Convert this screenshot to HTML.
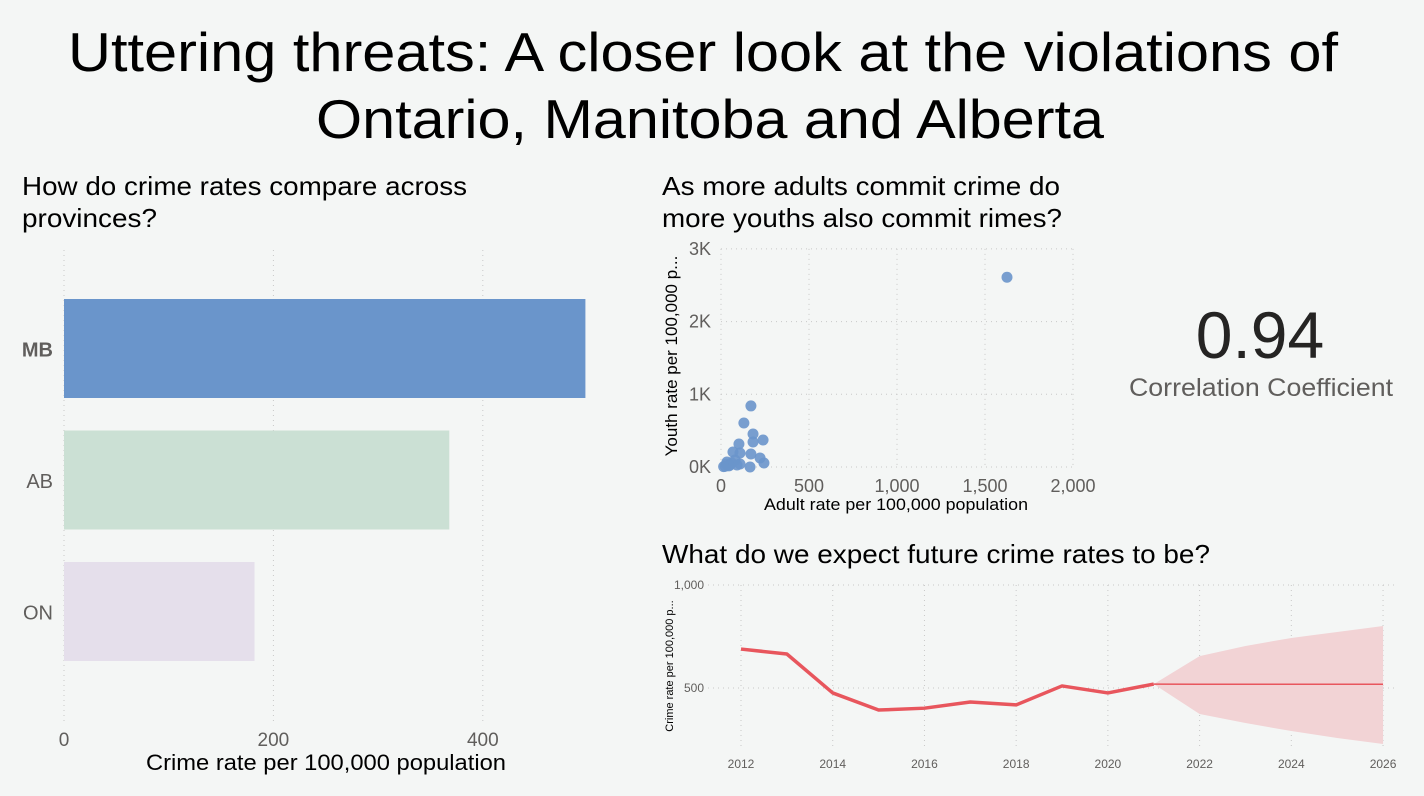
<!DOCTYPE html>
<html><head><meta charset="utf-8">
<style>
html,body{margin:0;padding:0;background:#f4f6f5;}
svg{display:block;font-family:"Liberation Sans",sans-serif;}
</style></head>
<body>
<svg id="page" width="1424" height="796" viewBox="0 0 1424 796" xmlns="http://www.w3.org/2000/svg">
<rect width="1424" height="796" fill="#f4f6f5"/>
<text x="68" y="71" font-size="55" textLength="1270" lengthAdjust="spacingAndGlyphs" fill="#000">Uttering threats: A closer look at the violations of</text>
<text x="316" y="138" font-size="55" textLength="788" lengthAdjust="spacingAndGlyphs" fill="#000">Ontario, Manitoba and Alberta</text>

<text x="22" y="195" font-size="26" textLength="445" lengthAdjust="spacingAndGlyphs" fill="#000">How do crime rates compare across</text>
<text x="22" y="227" font-size="26" textLength="135" lengthAdjust="spacingAndGlyphs" fill="#000">provinces?</text>
<g id="bar"></g>

<text x="662" y="195" font-size="26" textLength="398" lengthAdjust="spacingAndGlyphs" fill="#000">As more adults commit crime do</text>
<text x="662" y="227" font-size="26" textLength="400" lengthAdjust="spacingAndGlyphs" fill="#000">more youths also commit rimes?</text>
<g id="sc"></g>

<text x="1260" y="358" font-size="66" text-anchor="middle" fill="#252423">0.94</text>
<text x="1129" y="396" font-size="25" textLength="264" lengthAdjust="spacingAndGlyphs" fill="#605e5c">Correlation Coefficient</text>

<text x="662" y="563" font-size="26" textLength="548" lengthAdjust="spacingAndGlyphs" fill="#000">What do we expect future crime rates to be?</text>
<g id="ln"></g>
</svg>
<script>
const NS="http://www.w3.org/2000/svg";
function mk(p,t,a,txt){const e=document.createElementNS(NS,t);for(const k in a)e.setAttribute(k,a[k]);if(txt!==undefined)e.textContent=txt;p.appendChild(e);return e;}

// Bar chart data
const provinces=["MB","AB","ON"];
const provinceRates=[498,368,182];
const barTicks=[0,200,400];
const barColors=["#6a95cb","#cbe0d4","#e5dfeb"];

// Scatter data
const adultRates=[1625,170,130,182,182,239,102,170,222,244,68,108,165,108,34,24,51,80,30,91,60,45,15];
const youthRates=[2610,840,605,454,344,371,316,179,124,55,206,193,0,41,69,10,28,96,40,27,55,15,5];
const scXTicks=[0,500,1000,1500,2000];
const scXLabels=["0","500","1,000","1,500","2,000"];
const scYTicks=[0,1000,2000,3000];
const scYLabels=["0K","1K","2K","3K"];

// Line chart data
const years=[2012,2013,2014,2015,2016,2017,2018,2019,2020,2021];
const crimeRates=[689,665,476,393,402,432,418,510,476,519];
const fcYears=[2021,2022,2023,2024,2025,2026];
const fcValues=[519,518,518,518,518,518];
const fcUpper=[519,655,704,743,772,801];
const fcLower=[519,374,330,291,257,228];
const lnXTicks=[2012,2014,2016,2018,2020,2022,2024,2026];
const lnYTicks=[500,1000];
const lnYLabels=["500","1,000"];

// ---- Bar chart
(function(){
const g=document.getElementById('bar');
const x=v=>64+v*1.047;
const bandTop=i=>299+i*131.5, bh=99;
barTicks.forEach(t=>{
 const l=mk(g,'line',{x1:x(t),x2:x(t),y1:250,y2:722,stroke:'#c8c8c8','stroke-dasharray':'1 4'});
 
 
 const tx=mk(g,'text',{x:x(t),y:746,'font-size':19,'text-anchor':'middle',fill:'#605e5c'},String(t));
 
 
});
provinces.forEach((p,i)=>{
 const r=mk(g,'rect',{x:x(0),y:bandTop(i),width:x(provinceRates[i])-x(0),height:bh,fill:barColors[i]});
 
 
 const t=mk(g,'text',{x:53,y:bandTop(i)+bh/2+8,'font-size':20,'text-anchor':'end',fill:'#605e5c','font-weight':i===0?'bold':'normal'},p);
 
 
});
const at=mk(g,'text',{x:146,y:770,'font-size':22,textLength:360,lengthAdjust:'spacingAndGlyphs',fill:'#000'},'Crime rate per 100,000 population');


})();

// ---- Scatter
(function(){
const g=document.getElementById('sc');
const x=v=>721+v*0.176, y=v=>467-v*0.0727;
scXTicks.forEach((t,i)=>{
 const l=mk(g,'line',{x1:x(t),x2:x(t),y1:y(3000),y2:y(0),stroke:'#c8c8c8','stroke-dasharray':'1 4'});
 
 
 const tx=mk(g,'text',{x:x(t),y:492,'font-size':18,'text-anchor':'middle',fill:'#605e5c'},scXLabels[i]);
 
 
});
scYTicks.forEach((t,i)=>{
 const l=mk(g,'line',{x1:x(0),x2:x(2000),y1:y(t),y2:y(t),stroke:'#c8c8c8','stroke-dasharray':'1 4'});
 
 
 const tx=mk(g,'text',{x:711,y:y(t)+6,'font-size':18,'text-anchor':'end',fill:'#605e5c'},scYLabels[i]);
 
 
});
adultRates.forEach((a,i)=>{
 const c=mk(g,'circle',{cx:x(a),cy:y(youthRates[i]),r:5.5,fill:'#6a95cb','fill-opacity':0.9});
 
 
});
const xt=mk(g,'text',{x:764,y:510,'font-size':17,textLength:264,lengthAdjust:'spacingAndGlyphs',fill:'#000'},'Adult rate per 100,000 population');


const yt=mk(g,'text',{x:0,y:0,'font-size':17,'text-anchor':'middle',fill:'#000',transform:'translate(677,356) rotate(-90)'},'Youth rate per 100,000 p...');


})();

// ---- Line chart
(function(){
const g=document.getElementById('ln');
const x=v=>741+(v-2012)*45.86, y=v=>688-(v-500)*0.206;
lnXTicks.forEach(t=>{
 const l=mk(g,'line',{x1:x(t),x2:x(t),y1:585,y2:748,stroke:'#c8c8c8','stroke-dasharray':'1 4'});
 
 
 const tx=mk(g,'text',{x:x(t),y:768,'font-size':12,'text-anchor':'middle',fill:'#605e5c'},String(t));
 
 
});
lnYTicks.forEach((t,i)=>{
 const l=mk(g,'line',{x1:708,x2:1394,y1:y(t),y2:y(t),stroke:'#c8c8c8','stroke-dasharray':'1 4'});
 
 
 const tx=mk(g,'text',{x:704,y:y(t)+4,'font-size':12,'text-anchor':'end',fill:'#605e5c'},lnYLabels[i]);
 
 
});
let band=fcYears.map((yr,i)=>x(yr)+','+y(fcUpper[i])).join(' ')+' '+fcYears.slice().reverse().map((yr,j)=>x(yr)+','+y(fcLower[fcYears.length-1-j])).join(' ');
const b=mk(g,'polygon',{points:band,fill:'#f2d3d5'});


const f=mk(g,'polyline',{points:fcYears.map((yr,i)=>x(yr)+','+y(fcValues[i])).join(' '),fill:'none',stroke:'#e8565d','stroke-width':1.5});


const p=mk(g,'polyline',{points:years.map((yr,i)=>x(yr)+','+y(crimeRates[i])).join(' '),fill:'none',stroke:'#e8565d','stroke-width':3.5,'stroke-linejoin':'round'});


const yt=mk(g,'text',{x:0,y:0,'font-size':11,'text-anchor':'middle',fill:'#000',transform:'translate(673,666) rotate(-90)'},'Crime rate per 100,000 p...');


})();
</script>
</body></html>
